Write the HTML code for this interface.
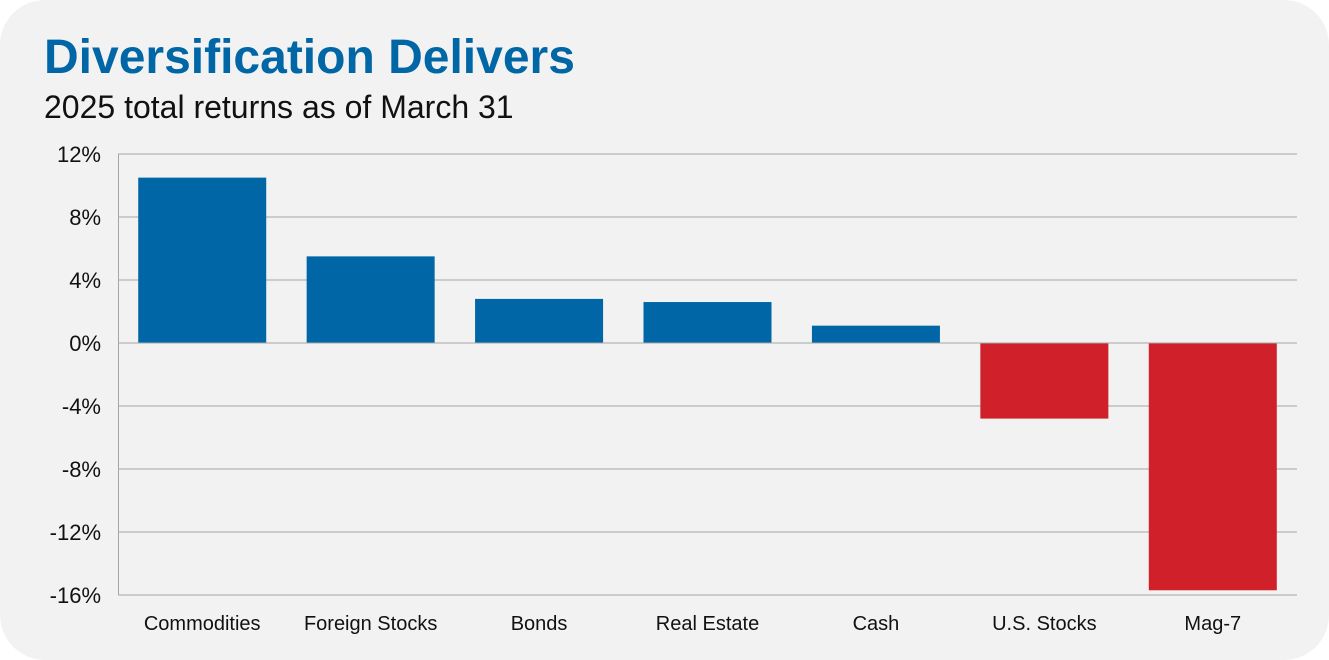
<!DOCTYPE html>
<html><head><meta charset="utf-8">
<style>
html,body{margin:0;padding:0;background:#fff;}
body{width:1329px;height:660px;overflow:hidden;font-family:"Liberation Sans",sans-serif;}
#card{position:absolute;left:0;top:0;width:1329px;height:660px;background:#f2f2f2;border-radius:45px;}
#title{position:absolute;left:44px;top:30px;font-size:48px;font-weight:bold;color:#0066a6;letter-spacing:0px;margin:0;}
#subtitle{position:absolute;left:44px;top:89px;font-size:32px;color:#111;}
svg{position:absolute;left:0;top:0;}
</style></head><body>
<div id="card">
<h1 id="title">Diversification Delivers</h1>
<div id="subtitle">2025 total returns as of March 31</div>
</div>
<svg id="chart" width="1329" height="660"></svg>
<script>
const categories=["Commodities","Foreign Stocks","Bonds","Real Estate","Cash","U.S. Stocks","Mag-7"];
const values=[10.5,5.5,2.8,2.6,1.1,-4.8,-15.7];
const ticks=[12,8,4,0,-4,-8,-12,-16];
const tickLabels=["12%","8%","4%","0%","-4%","-8%","-12%","-16%"];
const NS="http://www.w3.org/2000/svg";
const svg=document.getElementById('chart');
const X0=118,X1=1297,Y12=154,Y16=595;
const y=v=>Y12+(12-v)*(Y16-Y12)/28;
const band=(X1-X0)/categories.length;
const x=i=>X0+band*i;
function mk(t,a){const e=document.createElementNS(NS,t);for(const k in a)e.setAttribute(k,a[k]);svg.appendChild(e);return e;}
ticks.forEach((t,i)=>{
  const g=mk('line',{x1:X0,x2:X1,y1:y(t),y2:y(t),stroke:'#a6a6a6','stroke-width':1});
  
  
  const l=mk('text',{x:101,y:y(t)+8,'text-anchor':'end','font-size':22,fill:'#111','font-family':'Liberation Sans, sans-serif'});
  l.textContent=tickLabels[i];
  
  
});
const ax=mk('line',{x1:X0+0.5,x2:X0+0.5,y1:Y12,y2:Y16,stroke:'#a6a6a6','stroke-width':1});


values.forEach((v,i)=>{
  const bw=128;
  const bx=x(i)+(band-bw)/2;
  const top=Math.min(y(v),y(0)),h=Math.abs(y(v)-y(0));
  const r=mk('rect',{x:bx,y:top,width:bw,height:h,fill:v>=0?'#0066a6':'#d0202a'});
  
  
  const t=mk('text',{x:x(i)+band/2,y:630,'text-anchor':'middle','font-size':20,fill:'#111','font-family':'Liberation Sans, sans-serif'});
  t.textContent=categories[i];
  
  
});
const z=mk('line',{x1:X0,x2:X1,y1:y(0),y2:y(0),stroke:'#a6a6a6','stroke-width':1});


</script>
</body></html>
